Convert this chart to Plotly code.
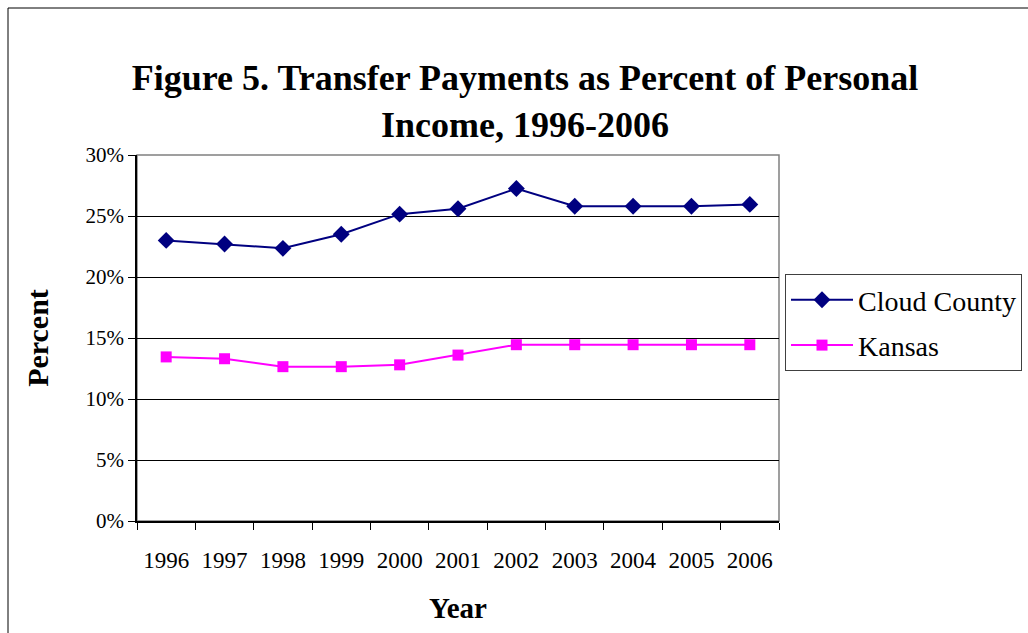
import plotly.graph_objects as go

years = ["1996", "1997", "1998", "1999", "2000", "2001", "2002", "2003", "2004", "2005", "2006"]
cloud_county = [23.0, 22.7, 22.35, 23.5, 25.15, 25.6, 27.25, 25.8, 25.8, 25.8, 25.95]
kansas = [13.45, 13.3, 12.65, 12.65, 12.8, 13.6, 14.45, 14.45, 14.45, 14.45, 14.45]
y_ticks = [0, 5, 10, 15, 20, 25, 30]

FONT = "Liberation Serif"
L, R, T, B = 137, 779, 155, 521
W, H = 1028, 633

def px_x(p):
    return (p - L) / (R - L)

def px_y(p):
    return (B - p) / (B - T)

fig = go.Figure()
fig.add_trace(go.Scatter(
    x=years, y=cloud_county, name="Cloud County", mode="lines+markers",
    line=dict(color="#000080", width=2),
    marker=dict(symbol="diamond", size=13, color="#000080"),
    legendgroup="a",
))
fig.add_trace(go.Scatter(
    x=years, y=kansas, name="Kansas", mode="lines+markers",
    line=dict(color="#FF00FF", width=2),
    marker=dict(symbol="square", size=11, color="#FF00FF"),
    legendgroup="b",
))

shapes = [
    dict(type="rect", xref="paper", yref="paper", x0=0, y0=0, x1=1, y1=1,
         line=dict(color="#808080", width=1.5), layer="below"),
    dict(type="line", xref="paper", yref="paper", x0=px_x(8), x1=px_x(8),
         y0=px_y(8), y1=px_y(640), line=dict(color="black", width=1)),
    dict(type="line", xref="paper", yref="paper", x0=px_x(8), x1=px_x(1040),
         y0=px_y(8), y1=px_y(8), line=dict(color="black", width=1)),
]

fig.update_layout(
    width=W, height=H,
    margin=dict(l=L, r=W - R, t=T, b=H - B, autoexpand=False),
    paper_bgcolor="white", plot_bgcolor="white",
    font=dict(family=FONT, color="black"),
    title=dict(
        text="<b>Figure 5. Transfer Payments as Percent of Personal<br>Income, 1996-2006</b>",
        font=dict(family=FONT, size=36, color="black"),
        x=525 / W, xanchor="center", xref="container",
        y=1 - 90 / H, yanchor="middle", yref="container",
    ),
    xaxis=dict(
        type="category", range=[-0.5, len(years) - 0.5],
        tickson="boundaries", ticks="outside", ticklen=7,
        tickcolor="black", showline=True, linecolor="black", linewidth=1.5,
        showgrid=False, tickfont=dict(family=FONT, size=23, color="black"),
        ticklabelstandoff=18,
        title=dict(text="<b>Year</b>", font=dict(family=FONT, size=29, color="black"), standoff=25),
    ),
    yaxis=dict(
        range=[0, 30], tickvals=y_ticks, ticktext=[f"{v}%" for v in y_ticks],
        ticks="outside", ticklen=7, tickcolor="black",
        showline=True, linecolor="black", linewidth=1.5,
        showgrid=True, gridcolor="black", gridwidth=1, zeroline=False,
        tickfont=dict(family=FONT, size=21, color="black"),
        title=dict(text="<b>Percent</b>", font=dict(family=FONT, size=30, color="black"), standoff=28),
    ),
    legend=dict(
        x=px_x(785), y=px_y(274), xanchor="left", yanchor="top",
        bordercolor="#404040", borderwidth=1, bgcolor="white",
        font=dict(family=FONT, size=28, color="black"),
        itemwidth=62, tracegroupgap=6,
    ),
    shapes=shapes,
)

fig.write_html("out.html", config={"displayModeBar": False},
               post_script="document.body.style.margin='0';")
